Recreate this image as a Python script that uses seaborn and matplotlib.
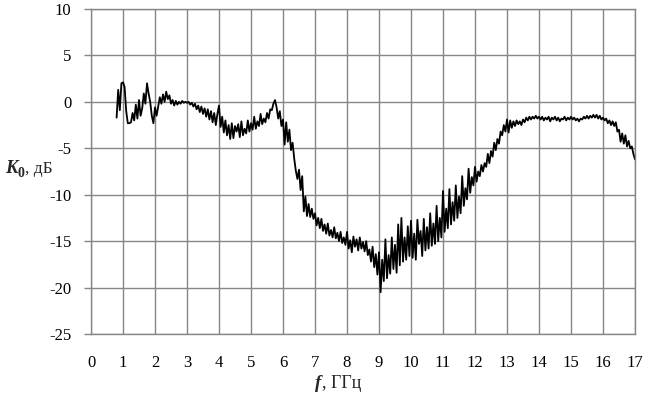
import numpy as np
import pandas as pd
import matplotlib
matplotlib.use("Agg")
import matplotlib.pyplot as plt
import seaborn as sns

# ---- data, frequency grid 0.80..17.00 GHz step 0.05 ----
freq_start = 0.80
freq_step = 0.05
k0_db = [
    # 0.80 - 0.95
    -1.7, 1.3, -0.9, 2.0,
    # 1.00 - 1.95
    2.1, 1.6, -1.0, -2.3, -2.3, -2.2, -1.2, -2.0, -0.3, -1.8,
    0.2, -1.5, -0.7, 0.9, -0.2, 2.0, 0.9, 0.0, -1.5, -2.3,
    # 2.00 - 2.95
    -0.6, -1.5, -0.5, 0.5, -0.2, 0.8, 0.0, 1.1, 0.3, 0.7,
    -0.2, 0.2, -0.4, 0.1, -0.3, 0.0, -0.2, 0.1, -0.1, 0.0,
    # 3.00 - 3.95
    -0.1, 0.0, -0.3, -0.1, -0.5, -0.2, -0.8, -0.4, -1.1, -0.5,
    -1.3, -0.7, -1.6, -0.8, -1.9, -1.0, -2.2, -1.2, -2.5, -1.3,
    # 4.00 - 4.95
    -0.4, -2.7, -1.6, -3.3, -2.0, -3.6, -2.5, -4.0, -2.3, -3.9,
    -2.6, -3.2, -2.4, -3.8, -2.1, -3.6, -2.9, -3.4, -2.0, -3.2,
    # 5.00 - 5.95
    -2.3, -3.0, -1.6, -2.9, -2.1, -2.6, -1.3, -2.4, -1.8, -2.2,
    -1.2, -1.8, -0.8, -0.9, -0.2, 0.2, -0.6, -1.8, -1.0, -2.6,
    # 6.00 - 6.95
    -1.9, -4.6, -2.2, -4.3, -3.0, -5.2, -4.4, -6.1, -7.4, -8.3,
    -7.3, -9.5, -8.0, -11.8, -10.2, -12.3, -11.0, -12.4, -11.5, -12.6,
    # 7.00 - 7.95
    -12.0, -13.3, -12.5, -13.6, -12.6, -13.9, -13.2, -14.2, -13.1, -14.4,
    -13.8, -14.6, -13.5, -14.7, -14.1, -15.0, -14.0, -15.2, -14.6, -15.4,
    # 8.00 - 8.95
    -14.0, -15.8, -14.9, -16.2, -14.5, -15.6, -14.8, -16.0, -14.6, -15.8,
    -15.1, -16.1, -15.0, -16.5, -15.9, -17.2, -15.6, -17.8, -16.4, -18.6,
    # 9.00 - 9.95
    -16.2, -20.5, -17.0, -19.3, -14.8, -19.0, -16.5, -18.5, -14.6, -18.0,
    -15.4, -18.4, -13.2, -17.6, -12.5, -17.2, -14.6, -17.0, -13.4, -16.6,
    # 10.00 - 10.95
    -12.8, -16.8, -14.2, -17.0, -12.7, -15.3, -13.9, -16.6, -12.6, -16.0,
    -13.5, -15.8, -12.0, -15.5, -13.1, -15.3, -11.2, -15.0, -12.5, -14.6,
    # 11.00 - 11.95
    -9.6, -14.0, -11.5, -13.6, -9.4, -13.2, -10.8, -12.8, -9.0, -12.5,
    -10.2, -12.0, -8.0, -11.2, -9.3, -10.5, -7.2, -9.8, -8.1, -9.0,
    # 12.00 - 12.95
    -7.0, -8.6, -7.5, -8.0, -6.8, -7.5, -6.6, -7.0, -5.6, -6.6,
    -5.3, -5.9, -4.4, -5.2, -4.0, -4.5, -3.2, -3.6, -2.5, -3.2,
    # 13.00 - 13.95
    -1.9, -3.3, -2.0, -2.8, -2.1, -2.6, -2.0, -2.4, -2.1, -2.5,
    -1.9, -2.2, -1.7, -2.0, -1.6, -1.9, -1.6, -1.8, -1.5, -1.8,
    # 14.00 - 14.95
    -1.6, -1.9, -1.6, -2.0, -1.7, -1.9, -1.6, -2.1, -1.7, -1.9,
    -1.6, -2.0, -1.7, -2.1, -1.8, -1.9, -1.6, -2.0, -1.7, -1.9,
    # 15.00 - 15.95
    -1.6, -1.9, -1.7, -2.0, -1.8, -2.1, -1.8, -1.9, -1.6, -1.8,
    -1.5, -1.8, -1.5, -1.7, -1.4, -1.7, -1.4, -1.8, -1.5, -1.9,
    # 16.00 - 16.95
    -1.7, -2.0, -1.8, -2.3, -2.0, -2.5, -2.1, -2.6, -2.2, -3.2,
    -3.0, -4.3, -3.4, -4.5, -3.6, -4.8, -4.2, -5.0, -4.8, -5.6,
    # 17.00
    -6.2,
]
freq_ghz = np.round(freq_start + freq_step * np.arange(len(k0_db)), 2)

x_ticks = list(range(0, 18))
y_ticks = [-25, -20, -15, -10, -5, 0, 5, 10]

df = pd.DataFrame({"f": freq_ghz, "K0": k0_db})

# ---- styling ----
sns.set_style("white")
plt.rcParams["font.family"] = ["Liberation Serif", "DejaVu Serif"]
plt.rcParams["axes.unicode_minus"] = False

W, H = 653, 394
fig = plt.figure(figsize=(W / 100, H / 100), dpi=100)
ax = fig.add_axes([91 / W, 60 / H, 544 / W, 325 / H])

grid_col = "#868686"
sns.lineplot(data=df, x="f", y="K0", ax=ax, color="black", linewidth=1.3,
             estimator=None, sort=False)

ax.set_xlim(0, 17)
ax.set_ylim(-25, 10)
ax.set_xticks(x_ticks)
ax.set_yticks(y_ticks)
ax.set_xticklabels([str(v) for v in x_ticks])
ax.set_yticklabels([str(v) for v in y_ticks])
ax.grid(True, color=grid_col, linewidth=1.0)
ax.set_axisbelow(True)
for s in ax.spines.values():
    s.set_color(grid_col)
    s.set_linewidth(1.0)
ax.tick_params(axis="y", which="both", left=True, length=5, width=1.0,
               color=grid_col, pad=9, labelsize=12, labelcolor="black")
ax.tick_params(axis="x", which="both", bottom=False, length=0, pad=15,
               labelsize=12, labelcolor="black")
ax.set_xlabel("")
ax.set_ylabel("")

# ---- axis titles composed of pieces ----
def fx(px):
    return px / W

def fy(py):
    return 1 - py / H

fig.canvas.draw()
renderer = fig.canvas.get_renderer()

# y label: K0, дБ
t1 = fig.text(fx(5), fy(173), "K", fontsize=13.5, fontweight="bold", fontstyle="italic",
              va="baseline", ha="left")
bb = t1.get_window_extent(renderer)
t2 = fig.text(bb.x1 / W + 0.5 / W, fy(177), "0", fontsize=10, fontweight="bold",
              va="baseline", ha="left")
bb = t2.get_window_extent(renderer)
fig.text(bb.x1 / W, fy(173), ", дБ", fontsize=12.5, va="baseline", ha="left")

# x label: f, ГГц
t3 = fig.text(fx(315), fy(388), "f", fontsize=13.5, fontweight="bold", fontstyle="italic",
              va="baseline", ha="left")
bb = t3.get_window_extent(renderer)
fig.text(bb.x1 / W + 1 / W, fy(388), ", ГГц", fontsize=13, va="baseline", ha="left")

fig.savefig("out.png", dpi=100)
